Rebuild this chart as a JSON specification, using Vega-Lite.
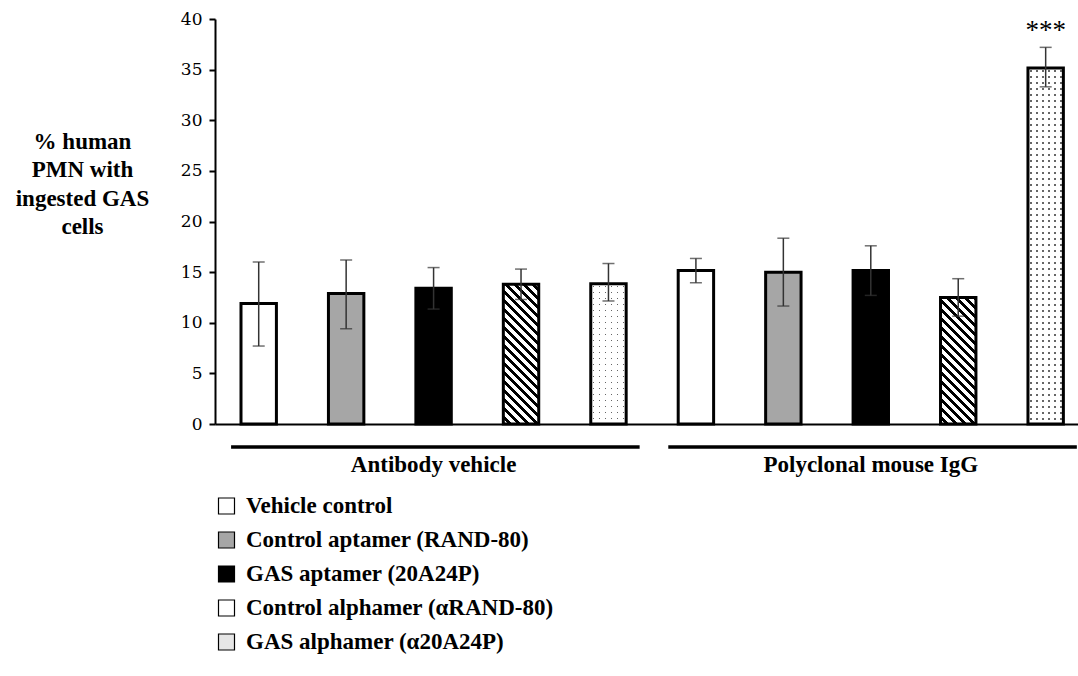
{
  "$schema": "https://vega.github.io/schema/vega-lite/v6.json",
  "width": 863,
  "height": 405,
  "autosize": {"type": "none"},
  "padding": {"left": 215, "top": 19, "right": 0, "bottom": 252},
  "background": "white",
  "config": {
    "view": {"stroke": null},
    "font": "Liberation Serif",
    "axis": {"grid": false}
  },
  "datasets": {
    "bars": [
      {"id": "A1", "group": "Antibody vehicle", "treatment": "Vehicle control", "mean": 11.9, "lo": 7.7, "hi": 16.0, "sig": ""},
      {"id": "A2", "group": "Antibody vehicle", "treatment": "Control aptamer (RAND-80)", "mean": 12.9, "lo": 9.4, "hi": 16.2, "sig": ""},
      {"id": "A3", "group": "Antibody vehicle", "treatment": "GAS aptamer (20A24P)", "mean": 13.4, "lo": 11.35, "hi": 15.45, "sig": ""},
      {"id": "A4", "group": "Antibody vehicle", "treatment": "Control alphamer (αRAND-80)", "mean": 13.8, "lo": 12.3, "hi": 15.3, "sig": ""},
      {"id": "A5", "group": "Antibody vehicle", "treatment": "GAS alphamer (α20A24P)", "mean": 13.85, "lo": 12.15, "hi": 15.85, "sig": ""},
      {"id": "P1", "group": "Polyclonal mouse IgG", "treatment": "Vehicle control", "mean": 15.15, "lo": 13.95, "hi": 16.35, "sig": ""},
      {"id": "P2", "group": "Polyclonal mouse IgG", "treatment": "Control aptamer (RAND-80)", "mean": 15.0, "lo": 11.65, "hi": 18.35, "sig": ""},
      {"id": "P3", "group": "Polyclonal mouse IgG", "treatment": "GAS aptamer (20A24P)", "mean": 15.15, "lo": 12.7, "hi": 17.6, "sig": ""},
      {"id": "P4", "group": "Polyclonal mouse IgG", "treatment": "Control alphamer (αRAND-80)", "mean": 12.5, "lo": 10.65, "hi": 14.35, "sig": ""},
      {"id": "P5", "group": "Polyclonal mouse IgG", "treatment": "GAS alphamer (α20A24P)", "mean": 35.15, "lo": 33.3, "hi": 37.2, "sig": "***"}
    ],
    "groups": [
      {"group": "Antibody vehicle", "first": "A1", "last": "A5", "mid": "A3"},
      {"group": "Polyclonal mouse IgG", "first": "P1", "last": "P5", "mid": "P3"}
    ]
  },
  "data": {"name": "bars"},
  "encoding": {
    "x": {
      "field": "id", "type": "nominal",
      "scale": {"domain": ["A1","A2","A3","A4","A5","P1","P2","P3","P4","P5"], "paddingInner": 0.595, "paddingOuter": 0.2323, "align": 0.64},
      "axis": {"labels": false, "ticks": false, "title": null, "domainColor": "black", "domainWidth": 2, "grid": false}
    }
  },
  "layer": [
    {
      "mark": {"type": "bar"},
      "encoding": {
        "y": {
          "field": "mean", "type": "quantitative",
          "scale": {"domain": [0, 40]},
          "axis": {
            "values": [0,5,10,15,20,25,30,35,40],
            "title": ["% human", "PMN with", "ingested GAS", "cells"],
            "titleFont": "Liberation Serif", "titleFontSize": 23, "titleFontWeight": "bold", "titleColor": "black",
            "titleAngle": 0, "titleAlign": "center", "titleBaseline": "alphabetic", "titleX": -133, "titleY": 129, "titleLineHeight": 28.5,
            "labelFont": "DejaVu Serif", "labelFontSize": 17, "labelColor": "black", "labelPadding": 7, "labelFlush": false,
            "tickSize": 6, "tickWidth": 2, "tickColor": "black", "domainColor": "black", "domainWidth": 2, "grid": false
          }
        },
        "fill": {
          "field": "treatment", "type": "nominal",
          "scale": {"domain": ["Vehicle control", "Control aptamer (RAND-80)", "GAS aptamer (20A24P)", "Control alphamer (αRAND-80)", "GAS alphamer (α20A24P)"], "range": ["white", "#a6a6a6", "black", "white", "#e6e6e6"]},
          "legend": {
            "orient": "none", "legendX": 0, "legendY": 476, "title": null, "direction": "vertical",
            "symbolType": "square", "symbolSize": 256, "symbolStrokeColor": "black", "symbolStrokeWidth": 1.2,
            "labelFont": "Liberation Serif", "labelFontSize": 23, "labelFontWeight": "bold", "labelColor": "black",
            "labelOffset": 8, "labelLimit": 0, "rowPadding": 11, "clipHeight": 22, "padding": 0
          }
        }
      }
    },
    {
      "transform": [{"filter": "datum.id === 'A4'"}],
      "mark": {"type": "bar", "fill": {"gradient": "linear", "x1": 0, "y1": 1, "x2": 0.2985, "y2": -0.1778, "stops": [
        {"offset": 0, "color": "#fff"},
        {"offset": 0.028, "color": "#fff"}, {"offset": 0.028, "color": "#000"}, {"offset": 0.051, "color": "#000"}, {"offset": 0.051, "color": "#fff"},
        {"offset": 0.08, "color": "#fff"}, {"offset": 0.08, "color": "#000"}, {"offset": 0.103, "color": "#000"}, {"offset": 0.103, "color": "#fff"},
        {"offset": 0.131, "color": "#fff"}, {"offset": 0.131, "color": "#000"}, {"offset": 0.154, "color": "#000"}, {"offset": 0.154, "color": "#fff"},
        {"offset": 0.182, "color": "#fff"}, {"offset": 0.182, "color": "#000"}, {"offset": 0.206, "color": "#000"}, {"offset": 0.206, "color": "#fff"},
        {"offset": 0.234, "color": "#fff"}, {"offset": 0.234, "color": "#000"}, {"offset": 0.257, "color": "#000"}, {"offset": 0.257, "color": "#fff"},
        {"offset": 0.285, "color": "#fff"}, {"offset": 0.285, "color": "#000"}, {"offset": 0.308, "color": "#000"}, {"offset": 0.308, "color": "#fff"},
        {"offset": 0.337, "color": "#fff"}, {"offset": 0.337, "color": "#000"}, {"offset": 0.36, "color": "#000"}, {"offset": 0.36, "color": "#fff"},
        {"offset": 0.388, "color": "#fff"}, {"offset": 0.388, "color": "#000"}, {"offset": 0.411, "color": "#000"}, {"offset": 0.411, "color": "#fff"},
        {"offset": 0.439, "color": "#fff"}, {"offset": 0.439, "color": "#000"}, {"offset": 0.463, "color": "#000"}, {"offset": 0.463, "color": "#fff"},
        {"offset": 0.491, "color": "#fff"}, {"offset": 0.491, "color": "#000"}, {"offset": 0.514, "color": "#000"}, {"offset": 0.514, "color": "#fff"},
        {"offset": 0.542, "color": "#fff"}, {"offset": 0.542, "color": "#000"}, {"offset": 0.565, "color": "#000"}, {"offset": 0.565, "color": "#fff"},
        {"offset": 0.594, "color": "#fff"}, {"offset": 0.594, "color": "#000"}, {"offset": 0.617, "color": "#000"}, {"offset": 0.617, "color": "#fff"},
        {"offset": 0.645, "color": "#fff"}, {"offset": 0.645, "color": "#000"}, {"offset": 0.668, "color": "#000"}, {"offset": 0.668, "color": "#fff"},
        {"offset": 0.696, "color": "#fff"}, {"offset": 0.696, "color": "#000"}, {"offset": 0.719, "color": "#000"}, {"offset": 0.719, "color": "#fff"},
        {"offset": 0.748, "color": "#fff"}, {"offset": 0.748, "color": "#000"}, {"offset": 0.771, "color": "#000"}, {"offset": 0.771, "color": "#fff"},
        {"offset": 0.799, "color": "#fff"}, {"offset": 0.799, "color": "#000"}, {"offset": 0.822, "color": "#000"}, {"offset": 0.822, "color": "#fff"},
        {"offset": 0.851, "color": "#fff"}, {"offset": 0.851, "color": "#000"}, {"offset": 0.874, "color": "#000"}, {"offset": 0.874, "color": "#fff"},
        {"offset": 0.902, "color": "#fff"}, {"offset": 0.902, "color": "#000"}, {"offset": 0.925, "color": "#000"}, {"offset": 0.925, "color": "#fff"},
        {"offset": 0.953, "color": "#fff"}, {"offset": 0.953, "color": "#000"}, {"offset": 0.976, "color": "#000"}, {"offset": 0.976, "color": "#fff"},
        {"offset": 1, "color": "#fff"}
      ]}},
      "encoding": {"y": {"field": "mean", "type": "quantitative"}}
    },
    {
      "transform": [{"filter": "datum.id === 'P4'"}],
      "mark": {"type": "bar", "fill": {"gradient": "linear", "x1": 0, "y1": 1, "x2": 0.3321, "y2": -0.1869, "stops": [
        {"offset": 0, "color": "#fff"},
        {"offset": 0.031, "color": "#fff"}, {"offset": 0.031, "color": "#000"}, {"offset": 0.056, "color": "#000"}, {"offset": 0.056, "color": "#fff"},
        {"offset": 0.086, "color": "#fff"}, {"offset": 0.086, "color": "#000"}, {"offset": 0.111, "color": "#000"}, {"offset": 0.111, "color": "#fff"},
        {"offset": 0.142, "color": "#fff"}, {"offset": 0.142, "color": "#000"}, {"offset": 0.167, "color": "#000"}, {"offset": 0.167, "color": "#fff"},
        {"offset": 0.197, "color": "#fff"}, {"offset": 0.197, "color": "#000"}, {"offset": 0.222, "color": "#000"}, {"offset": 0.222, "color": "#fff"},
        {"offset": 0.253, "color": "#fff"}, {"offset": 0.253, "color": "#000"}, {"offset": 0.278, "color": "#000"}, {"offset": 0.278, "color": "#fff"},
        {"offset": 0.308, "color": "#fff"}, {"offset": 0.308, "color": "#000"}, {"offset": 0.333, "color": "#000"}, {"offset": 0.333, "color": "#fff"},
        {"offset": 0.364, "color": "#fff"}, {"offset": 0.364, "color": "#000"}, {"offset": 0.389, "color": "#000"}, {"offset": 0.389, "color": "#fff"},
        {"offset": 0.42, "color": "#fff"}, {"offset": 0.42, "color": "#000"}, {"offset": 0.445, "color": "#000"}, {"offset": 0.445, "color": "#fff"},
        {"offset": 0.475, "color": "#fff"}, {"offset": 0.475, "color": "#000"}, {"offset": 0.5, "color": "#000"}, {"offset": 0.5, "color": "#fff"},
        {"offset": 0.531, "color": "#fff"}, {"offset": 0.531, "color": "#000"}, {"offset": 0.556, "color": "#000"}, {"offset": 0.556, "color": "#fff"},
        {"offset": 0.586, "color": "#fff"}, {"offset": 0.586, "color": "#000"}, {"offset": 0.611, "color": "#000"}, {"offset": 0.611, "color": "#fff"},
        {"offset": 0.642, "color": "#fff"}, {"offset": 0.642, "color": "#000"}, {"offset": 0.667, "color": "#000"}, {"offset": 0.667, "color": "#fff"},
        {"offset": 0.697, "color": "#fff"}, {"offset": 0.697, "color": "#000"}, {"offset": 0.722, "color": "#000"}, {"offset": 0.722, "color": "#fff"},
        {"offset": 0.753, "color": "#fff"}, {"offset": 0.753, "color": "#000"}, {"offset": 0.778, "color": "#000"}, {"offset": 0.778, "color": "#fff"},
        {"offset": 0.808, "color": "#fff"}, {"offset": 0.808, "color": "#000"}, {"offset": 0.833, "color": "#000"}, {"offset": 0.833, "color": "#fff"},
        {"offset": 0.864, "color": "#fff"}, {"offset": 0.864, "color": "#000"}, {"offset": 0.889, "color": "#000"}, {"offset": 0.889, "color": "#fff"},
        {"offset": 0.92, "color": "#fff"}, {"offset": 0.92, "color": "#000"}, {"offset": 0.945, "color": "#000"}, {"offset": 0.945, "color": "#fff"},
        {"offset": 0.975, "color": "#fff"}, {"offset": 0.975, "color": "#000"}, {"offset": 1, "color": "#000"}
      ]}},
      "encoding": {"y": {"field": "mean", "type": "quantitative"}}
    },
    {
      "transform": [{"filter": "datum.id === 'A5' || datum.id === 'P5'"}],
      "mark": {"type": "bar", "fill": "#666"},
      "encoding": {"y": {"field": "mean", "type": "quantitative"}}
    },
    {
      "transform": [{"filter": "datum.id === 'A5' || datum.id === 'P5'"}],
      "mark": {"type": "bar", "fill": {"gradient": "linear", "x1": 0, "y1": 0, "x2": 1, "y2": 0, "stops": [
        {"offset": 0, "color": "#fff"},
        {"offset": 0.0647, "color": "#fff"}, {"offset": 0.0647, "color": "transparent"}, {"offset": 0.1047, "color": "transparent"}, {"offset": 0.1047, "color": "#fff"},
        {"offset": 0.2342, "color": "#fff"}, {"offset": 0.2342, "color": "transparent"}, {"offset": 0.2742, "color": "transparent"}, {"offset": 0.2742, "color": "#fff"},
        {"offset": 0.4036, "color": "#fff"}, {"offset": 0.4036, "color": "transparent"}, {"offset": 0.4436, "color": "transparent"}, {"offset": 0.4436, "color": "#fff"},
        {"offset": 0.5731, "color": "#fff"}, {"offset": 0.5731, "color": "transparent"}, {"offset": 0.6131, "color": "transparent"}, {"offset": 0.6131, "color": "#fff"},
        {"offset": 0.7425, "color": "#fff"}, {"offset": 0.7425, "color": "transparent"}, {"offset": 0.7825, "color": "transparent"}, {"offset": 0.7825, "color": "#fff"},
        {"offset": 0.9119, "color": "#fff"}, {"offset": 0.9119, "color": "transparent"}, {"offset": 0.9519, "color": "transparent"}, {"offset": 0.9519, "color": "#fff"},
        {"offset": 1, "color": "#fff"}
      ]}},
      "encoding": {"y": {"field": "mean", "type": "quantitative"}}
    },
    {
      "transform": [{"filter": "datum.id === 'A5'"}],
      "mark": {"type": "bar", "fill": {"gradient": "linear", "x1": 0, "y1": 0, "x2": 0, "y2": 1, "stops": [
        {"offset": 0, "color": "#fff"},
        {"offset": 0.0164, "color": "#fff"}, {"offset": 0.0164, "color": "transparent"}, {"offset": 0.0264, "color": "transparent"}, {"offset": 0.0264, "color": "#fff"},
        {"offset": 0.0592, "color": "#fff"}, {"offset": 0.0592, "color": "transparent"}, {"offset": 0.0692, "color": "transparent"}, {"offset": 0.0692, "color": "#fff"},
        {"offset": 0.102, "color": "#fff"}, {"offset": 0.102, "color": "transparent"}, {"offset": 0.112, "color": "transparent"}, {"offset": 0.112, "color": "#fff"},
        {"offset": 0.1448, "color": "#fff"}, {"offset": 0.1448, "color": "transparent"}, {"offset": 0.1548, "color": "transparent"}, {"offset": 0.1548, "color": "#fff"},
        {"offset": 0.1875, "color": "#fff"}, {"offset": 0.1875, "color": "transparent"}, {"offset": 0.1975, "color": "transparent"}, {"offset": 0.1975, "color": "#fff"},
        {"offset": 0.2303, "color": "#fff"}, {"offset": 0.2303, "color": "transparent"}, {"offset": 0.2403, "color": "transparent"}, {"offset": 0.2403, "color": "#fff"},
        {"offset": 0.2731, "color": "#fff"}, {"offset": 0.2731, "color": "transparent"}, {"offset": 0.2831, "color": "transparent"}, {"offset": 0.2831, "color": "#fff"},
        {"offset": 0.3159, "color": "#fff"}, {"offset": 0.3159, "color": "transparent"}, {"offset": 0.3259, "color": "transparent"}, {"offset": 0.3259, "color": "#fff"},
        {"offset": 0.3587, "color": "#fff"}, {"offset": 0.3587, "color": "transparent"}, {"offset": 0.3687, "color": "transparent"}, {"offset": 0.3687, "color": "#fff"},
        {"offset": 0.4015, "color": "#fff"}, {"offset": 0.4015, "color": "transparent"}, {"offset": 0.4115, "color": "transparent"}, {"offset": 0.4115, "color": "#fff"},
        {"offset": 0.4443, "color": "#fff"}, {"offset": 0.4443, "color": "transparent"}, {"offset": 0.4543, "color": "transparent"}, {"offset": 0.4543, "color": "#fff"},
        {"offset": 0.4871, "color": "#fff"}, {"offset": 0.4871, "color": "transparent"}, {"offset": 0.4971, "color": "transparent"}, {"offset": 0.4971, "color": "#fff"},
        {"offset": 0.5298, "color": "#fff"}, {"offset": 0.5298, "color": "transparent"}, {"offset": 0.5398, "color": "transparent"}, {"offset": 0.5398, "color": "#fff"},
        {"offset": 0.5726, "color": "#fff"}, {"offset": 0.5726, "color": "transparent"}, {"offset": 0.5826, "color": "transparent"}, {"offset": 0.5826, "color": "#fff"},
        {"offset": 0.6154, "color": "#fff"}, {"offset": 0.6154, "color": "transparent"}, {"offset": 0.6254, "color": "transparent"}, {"offset": 0.6254, "color": "#fff"},
        {"offset": 0.6582, "color": "#fff"}, {"offset": 0.6582, "color": "transparent"}, {"offset": 0.6682, "color": "transparent"}, {"offset": 0.6682, "color": "#fff"},
        {"offset": 0.701, "color": "#fff"}, {"offset": 0.701, "color": "transparent"}, {"offset": 0.711, "color": "transparent"}, {"offset": 0.711, "color": "#fff"},
        {"offset": 0.7438, "color": "#fff"}, {"offset": 0.7438, "color": "transparent"}, {"offset": 0.7538, "color": "transparent"}, {"offset": 0.7538, "color": "#fff"},
        {"offset": 0.7866, "color": "#fff"}, {"offset": 0.7866, "color": "transparent"}, {"offset": 0.7966, "color": "transparent"}, {"offset": 0.7966, "color": "#fff"},
        {"offset": 0.8294, "color": "#fff"}, {"offset": 0.8294, "color": "transparent"}, {"offset": 0.8394, "color": "transparent"}, {"offset": 0.8394, "color": "#fff"},
        {"offset": 0.8721, "color": "#fff"}, {"offset": 0.8721, "color": "transparent"}, {"offset": 0.8821, "color": "transparent"}, {"offset": 0.8821, "color": "#fff"},
        {"offset": 0.9149, "color": "#fff"}, {"offset": 0.9149, "color": "transparent"}, {"offset": 0.9249, "color": "transparent"}, {"offset": 0.9249, "color": "#fff"},
        {"offset": 0.9577, "color": "#fff"}, {"offset": 0.9577, "color": "transparent"}, {"offset": 0.9677, "color": "transparent"}, {"offset": 0.9677, "color": "#fff"},
        {"offset": 1, "color": "#fff"}
      ]}},
      "encoding": {"y": {"field": "mean", "type": "quantitative"}}
    },
    {
      "transform": [{"filter": "datum.id === 'P5'"}],
      "mark": {"type": "bar", "fill": {"gradient": "linear", "x1": 0, "y1": 0, "x2": 0, "y2": 1, "stops": [
        {"offset": 0, "color": "#fff"},
        {"offset": 0.0064, "color": "#fff"}, {"offset": 0.0064, "color": "transparent"}, {"offset": 0.0104, "color": "transparent"}, {"offset": 0.0104, "color": "#fff"},
        {"offset": 0.0233, "color": "#fff"}, {"offset": 0.0233, "color": "transparent"}, {"offset": 0.0273, "color": "transparent"}, {"offset": 0.0273, "color": "#fff"},
        {"offset": 0.0401, "color": "#fff"}, {"offset": 0.0401, "color": "transparent"}, {"offset": 0.0441, "color": "transparent"}, {"offset": 0.0441, "color": "#fff"},
        {"offset": 0.057, "color": "#fff"}, {"offset": 0.057, "color": "transparent"}, {"offset": 0.061, "color": "transparent"}, {"offset": 0.061, "color": "#fff"},
        {"offset": 0.0739, "color": "#fff"}, {"offset": 0.0739, "color": "transparent"}, {"offset": 0.0779, "color": "transparent"}, {"offset": 0.0779, "color": "#fff"},
        {"offset": 0.0907, "color": "#fff"}, {"offset": 0.0907, "color": "transparent"}, {"offset": 0.0947, "color": "transparent"}, {"offset": 0.0947, "color": "#fff"},
        {"offset": 0.1076, "color": "#fff"}, {"offset": 0.1076, "color": "transparent"}, {"offset": 0.1116, "color": "transparent"}, {"offset": 0.1116, "color": "#fff"},
        {"offset": 0.1244, "color": "#fff"}, {"offset": 0.1244, "color": "transparent"}, {"offset": 0.1284, "color": "transparent"}, {"offset": 0.1284, "color": "#fff"},
        {"offset": 0.1413, "color": "#fff"}, {"offset": 0.1413, "color": "transparent"}, {"offset": 0.1453, "color": "transparent"}, {"offset": 0.1453, "color": "#fff"},
        {"offset": 0.1582, "color": "#fff"}, {"offset": 0.1582, "color": "transparent"}, {"offset": 0.1622, "color": "transparent"}, {"offset": 0.1622, "color": "#fff"},
        {"offset": 0.175, "color": "#fff"}, {"offset": 0.175, "color": "transparent"}, {"offset": 0.179, "color": "transparent"}, {"offset": 0.179, "color": "#fff"},
        {"offset": 0.1919, "color": "#fff"}, {"offset": 0.1919, "color": "transparent"}, {"offset": 0.1959, "color": "transparent"}, {"offset": 0.1959, "color": "#fff"},
        {"offset": 0.2087, "color": "#fff"}, {"offset": 0.2087, "color": "transparent"}, {"offset": 0.2127, "color": "transparent"}, {"offset": 0.2127, "color": "#fff"},
        {"offset": 0.2256, "color": "#fff"}, {"offset": 0.2256, "color": "transparent"}, {"offset": 0.2296, "color": "transparent"}, {"offset": 0.2296, "color": "#fff"},
        {"offset": 0.2425, "color": "#fff"}, {"offset": 0.2425, "color": "transparent"}, {"offset": 0.2465, "color": "transparent"}, {"offset": 0.2465, "color": "#fff"},
        {"offset": 0.2593, "color": "#fff"}, {"offset": 0.2593, "color": "transparent"}, {"offset": 0.2633, "color": "transparent"}, {"offset": 0.2633, "color": "#fff"},
        {"offset": 0.2762, "color": "#fff"}, {"offset": 0.2762, "color": "transparent"}, {"offset": 0.2802, "color": "transparent"}, {"offset": 0.2802, "color": "#fff"},
        {"offset": 0.293, "color": "#fff"}, {"offset": 0.293, "color": "transparent"}, {"offset": 0.297, "color": "transparent"}, {"offset": 0.297, "color": "#fff"},
        {"offset": 0.3099, "color": "#fff"}, {"offset": 0.3099, "color": "transparent"}, {"offset": 0.3139, "color": "transparent"}, {"offset": 0.3139, "color": "#fff"},
        {"offset": 0.3268, "color": "#fff"}, {"offset": 0.3268, "color": "transparent"}, {"offset": 0.3308, "color": "transparent"}, {"offset": 0.3308, "color": "#fff"},
        {"offset": 0.3436, "color": "#fff"}, {"offset": 0.3436, "color": "transparent"}, {"offset": 0.3476, "color": "transparent"}, {"offset": 0.3476, "color": "#fff"},
        {"offset": 0.3605, "color": "#fff"}, {"offset": 0.3605, "color": "transparent"}, {"offset": 0.3645, "color": "transparent"}, {"offset": 0.3645, "color": "#fff"},
        {"offset": 0.3773, "color": "#fff"}, {"offset": 0.3773, "color": "transparent"}, {"offset": 0.3813, "color": "transparent"}, {"offset": 0.3813, "color": "#fff"},
        {"offset": 0.3942, "color": "#fff"}, {"offset": 0.3942, "color": "transparent"}, {"offset": 0.3982, "color": "transparent"}, {"offset": 0.3982, "color": "#fff"},
        {"offset": 0.411, "color": "#fff"}, {"offset": 0.411, "color": "transparent"}, {"offset": 0.415, "color": "transparent"}, {"offset": 0.415, "color": "#fff"},
        {"offset": 0.4279, "color": "#fff"}, {"offset": 0.4279, "color": "transparent"}, {"offset": 0.4319, "color": "transparent"}, {"offset": 0.4319, "color": "#fff"},
        {"offset": 0.4448, "color": "#fff"}, {"offset": 0.4448, "color": "transparent"}, {"offset": 0.4488, "color": "transparent"}, {"offset": 0.4488, "color": "#fff"},
        {"offset": 0.4616, "color": "#fff"}, {"offset": 0.4616, "color": "transparent"}, {"offset": 0.4656, "color": "transparent"}, {"offset": 0.4656, "color": "#fff"},
        {"offset": 0.4785, "color": "#fff"}, {"offset": 0.4785, "color": "transparent"}, {"offset": 0.4825, "color": "transparent"}, {"offset": 0.4825, "color": "#fff"},
        {"offset": 0.4953, "color": "#fff"}, {"offset": 0.4953, "color": "transparent"}, {"offset": 0.4993, "color": "transparent"}, {"offset": 0.4993, "color": "#fff"},
        {"offset": 0.5122, "color": "#fff"}, {"offset": 0.5122, "color": "transparent"}, {"offset": 0.5162, "color": "transparent"}, {"offset": 0.5162, "color": "#fff"},
        {"offset": 0.5291, "color": "#fff"}, {"offset": 0.5291, "color": "transparent"}, {"offset": 0.5331, "color": "transparent"}, {"offset": 0.5331, "color": "#fff"},
        {"offset": 0.5459, "color": "#fff"}, {"offset": 0.5459, "color": "transparent"}, {"offset": 0.5499, "color": "transparent"}, {"offset": 0.5499, "color": "#fff"},
        {"offset": 0.5628, "color": "#fff"}, {"offset": 0.5628, "color": "transparent"}, {"offset": 0.5668, "color": "transparent"}, {"offset": 0.5668, "color": "#fff"},
        {"offset": 0.5796, "color": "#fff"}, {"offset": 0.5796, "color": "transparent"}, {"offset": 0.5836, "color": "transparent"}, {"offset": 0.5836, "color": "#fff"},
        {"offset": 0.5965, "color": "#fff"}, {"offset": 0.5965, "color": "transparent"}, {"offset": 0.6005, "color": "transparent"}, {"offset": 0.6005, "color": "#fff"},
        {"offset": 0.6134, "color": "#fff"}, {"offset": 0.6134, "color": "transparent"}, {"offset": 0.6174, "color": "transparent"}, {"offset": 0.6174, "color": "#fff"},
        {"offset": 0.6302, "color": "#fff"}, {"offset": 0.6302, "color": "transparent"}, {"offset": 0.6342, "color": "transparent"}, {"offset": 0.6342, "color": "#fff"},
        {"offset": 0.6471, "color": "#fff"}, {"offset": 0.6471, "color": "transparent"}, {"offset": 0.6511, "color": "transparent"}, {"offset": 0.6511, "color": "#fff"},
        {"offset": 0.6639, "color": "#fff"}, {"offset": 0.6639, "color": "transparent"}, {"offset": 0.6679, "color": "transparent"}, {"offset": 0.6679, "color": "#fff"},
        {"offset": 0.6808, "color": "#fff"}, {"offset": 0.6808, "color": "transparent"}, {"offset": 0.6848, "color": "transparent"}, {"offset": 0.6848, "color": "#fff"},
        {"offset": 0.6976, "color": "#fff"}, {"offset": 0.6976, "color": "transparent"}, {"offset": 0.7016, "color": "transparent"}, {"offset": 0.7016, "color": "#fff"},
        {"offset": 0.7145, "color": "#fff"}, {"offset": 0.7145, "color": "transparent"}, {"offset": 0.7185, "color": "transparent"}, {"offset": 0.7185, "color": "#fff"},
        {"offset": 0.7314, "color": "#fff"}, {"offset": 0.7314, "color": "transparent"}, {"offset": 0.7354, "color": "transparent"}, {"offset": 0.7354, "color": "#fff"},
        {"offset": 0.7482, "color": "#fff"}, {"offset": 0.7482, "color": "transparent"}, {"offset": 0.7522, "color": "transparent"}, {"offset": 0.7522, "color": "#fff"},
        {"offset": 0.7651, "color": "#fff"}, {"offset": 0.7651, "color": "transparent"}, {"offset": 0.7691, "color": "transparent"}, {"offset": 0.7691, "color": "#fff"},
        {"offset": 0.7819, "color": "#fff"}, {"offset": 0.7819, "color": "transparent"}, {"offset": 0.7859, "color": "transparent"}, {"offset": 0.7859, "color": "#fff"},
        {"offset": 0.7988, "color": "#fff"}, {"offset": 0.7988, "color": "transparent"}, {"offset": 0.8028, "color": "transparent"}, {"offset": 0.8028, "color": "#fff"},
        {"offset": 0.8157, "color": "#fff"}, {"offset": 0.8157, "color": "transparent"}, {"offset": 0.8197, "color": "transparent"}, {"offset": 0.8197, "color": "#fff"},
        {"offset": 0.8325, "color": "#fff"}, {"offset": 0.8325, "color": "transparent"}, {"offset": 0.8365, "color": "transparent"}, {"offset": 0.8365, "color": "#fff"},
        {"offset": 0.8494, "color": "#fff"}, {"offset": 0.8494, "color": "transparent"}, {"offset": 0.8534, "color": "transparent"}, {"offset": 0.8534, "color": "#fff"},
        {"offset": 0.8662, "color": "#fff"}, {"offset": 0.8662, "color": "transparent"}, {"offset": 0.8702, "color": "transparent"}, {"offset": 0.8702, "color": "#fff"},
        {"offset": 0.8831, "color": "#fff"}, {"offset": 0.8831, "color": "transparent"}, {"offset": 0.8871, "color": "transparent"}, {"offset": 0.8871, "color": "#fff"},
        {"offset": 0.9, "color": "#fff"}, {"offset": 0.9, "color": "transparent"}, {"offset": 0.904, "color": "transparent"}, {"offset": 0.904, "color": "#fff"},
        {"offset": 0.9168, "color": "#fff"}, {"offset": 0.9168, "color": "transparent"}, {"offset": 0.9208, "color": "transparent"}, {"offset": 0.9208, "color": "#fff"},
        {"offset": 0.9337, "color": "#fff"}, {"offset": 0.9337, "color": "transparent"}, {"offset": 0.9377, "color": "transparent"}, {"offset": 0.9377, "color": "#fff"},
        {"offset": 0.9505, "color": "#fff"}, {"offset": 0.9505, "color": "transparent"}, {"offset": 0.9545, "color": "transparent"}, {"offset": 0.9545, "color": "#fff"},
        {"offset": 0.9674, "color": "#fff"}, {"offset": 0.9674, "color": "transparent"}, {"offset": 0.9714, "color": "transparent"}, {"offset": 0.9714, "color": "#fff"},
        {"offset": 0.9843, "color": "#fff"}, {"offset": 0.9843, "color": "transparent"}, {"offset": 0.9883, "color": "transparent"}, {"offset": 0.9883, "color": "#fff"},
        {"offset": 1, "color": "#fff"}
      ]}},
      "encoding": {"y": {"field": "mean", "type": "quantitative"}}
    },
    {
      "mark": {"type": "bar", "fillOpacity": 0, "stroke": "black", "strokeWidth": 3},
      "encoding": {"y": {"field": "mean", "type": "quantitative"}}
    },
    {
      "mark": {"type": "rule", "color": "#333", "strokeWidth": 1.5},
      "encoding": {"y": {"field": "lo", "type": "quantitative"}, "y2": {"field": "hi"}}
    },
    {
      "mark": {"type": "tick", "color": "#333", "size": 12, "thickness": 1.5},
      "encoding": {"y": {"field": "lo", "type": "quantitative"}}
    },
    {
      "mark": {"type": "tick", "color": "#333", "size": 12, "thickness": 1.5},
      "encoding": {"y": {"field": "hi", "type": "quantitative"}}
    },
    {
      "mark": {"type": "text", "font": "Liberation Serif", "fontSize": 27, "color": "black", "baseline": "alphabetic", "dy": -8},
      "encoding": {"y": {"field": "hi", "type": "quantitative"}, "text": {"field": "sig"}}
    },
    {
      "data": {"name": "groups"},
      "mark": {"type": "rule", "color": "black", "strokeWidth": 3.5},
      "encoding": {
        "x": {"field": "first", "type": "nominal", "bandPosition": -0.28},
        "x2": {"field": "last", "bandPosition": 1.38},
        "y": {"datum": -2.27, "type": "quantitative"}
      }
    },
    {
      "data": {"name": "groups"},
      "mark": {"type": "text", "font": "Liberation Serif", "fontSize": 23, "fontWeight": "bold", "color": "black", "baseline": "alphabetic"},
      "encoding": {
        "x": {"field": "mid", "type": "nominal"},
        "y": {"datum": -4.74, "type": "quantitative"},
        "text": {"field": "group"}
      }
    }
  ]
}
